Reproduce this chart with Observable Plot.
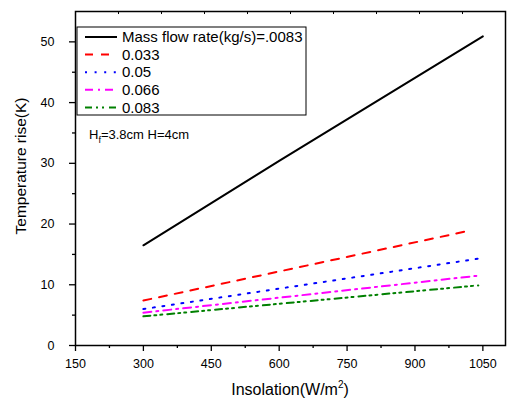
<!DOCTYPE html>
<html><head><meta charset="utf-8">
<script src="https://cdn.jsdelivr.net/npm/d3@7"></script>
<script src="https://cdn.jsdelivr.net/npm/@observablehq/plot@0.6"></script>
<style>
body{margin:0;background:#fff}
#chart{position:relative;width:507px;height:400px}
</style>
</head><body><div id="chart"></div>
<script>
// ---- data ----
const seriesNames = ["Mass flow rate(kg/s)=.0083", "0.033", "0.05", "0.066", "0.083"];
const seriesColors = ["#000000", "#ff0000", "#0000ff", "#ff00ff", "#008000"];
const seriesDash = [null, "8,8", "2,7.6", "8,5,2,5", "7,4,2,4,2,5"];
const insol0083 = [300, 600, 1050];
const rise0083 = [16.5, 30.4, 50.9];
const insol033 = [300, 1020];
const rise033 = [7.4, 18.9];
const insol05 = [300, 1040];
const rise05 = [6.0, 14.3];
const insol066 = [300, 1040];
const rise066 = [5.4, 11.5];
const insol083 = [300, 1040];
const rise083 = [4.8, 9.9];
const xTicks = [150, 300, 450, 600, 750, 900, 1050];
const xMinorTicks = [225, 375, 525, 675, 825, 975];
const yTicks = [0, 10, 20, 30, 40, 50];
const yMinorTicks = [5, 15, 25, 35, 45];
const topTicks = [245, 340, 435, 530, 625, 720, 815, 910, 1005];
const xLabelParts = ["Insolation(W/m", "2", ")"];
const yLabel = "Temperature rise(K)";

const seriesX = [insol0083, insol033, insol05, insol066, insol083];
const seriesY = [rise0083, rise033, rise05, rise066, rise083];
const rows = seriesX.map((xs, i) => xs.map((x, j) => ({x, y: seriesY[i][j], s: seriesNames[i]})));

const font = "'Liberation Sans', Arial, sans-serif";

const plot = Plot.plot({
  width: 507, height: 400,
  marginLeft: 75, marginRight: 2, marginTop: 11, marginBottom: 55,
  x: {domain: [150, 1100]},
  y: {domain: [0, 55]},
  style: {fontFamily: font, fontSize: "12px", color: "#000", background: "#fff"},
  marks: [
    Plot.axisX(xTicks, {tickSize: 6, tickPadding: 8, fontSize: 12.5, label: null, strokeWidth: 1.3, tickFormat: d => String(d)}),
    Plot.axisX(xMinorTicks, {tickSize: 3, text: null, label: null, strokeWidth: 1.3}),
    Plot.axisY(yTicks, {tickSize: 6, tickPadding: 15, fontSize: 12.5, label: null, strokeWidth: 1.3, tickFormat: d => String(d)}),
    Plot.axisY(yMinorTicks, {tickSize: 3, text: null, label: null, strokeWidth: 1.3}),
    Plot.ruleX(topTicks, {y1: 55, y2: 54.5, stroke: "#000", strokeWidth: 1}),
    ...rows.map((r, i) => Plot.line(r, {
      x: "x", y: "y", stroke: seriesColors[i], strokeWidth: 2,
      strokeDasharray: seriesDash[i] || undefined
    })),
    Plot.frame({stroke: "#000", strokeWidth: 1.5})
  ]
});

document.getElementById("chart").appendChild(plot);

const svg = d3.select(plot);
// axis titles
const xt = svg.append("text").attr("x", 290).attr("y", 395)
  .attr("text-anchor", "middle").attr("font-family", font).attr("font-size", 16)
  .attr("fill", "#000");
xt.append("tspan").text(xLabelParts[0]);
xt.append("tspan").attr("font-size", 10).attr("dy", -7).text(xLabelParts[1]);
xt.append("tspan").attr("dy", 7).text(xLabelParts[2]);
svg.append("text").attr("transform", "translate(21,166) rotate(-90)").attr("dy", "0.35em")
  .attr("text-anchor", "middle").attr("font-family", font).attr("font-size", 15.5)
  .attr("fill", "#000").text(yLabel);

// legend box drawn inside the SVG
const lg = svg.append("g").attr("font-family", font).attr("text-anchor", "start");
lg.append("rect").attr("x", 77).attr("y", 27).attr("width", 229).attr("height", 88)
  .attr("fill", "#fff").attr("stroke", "#000").attr("stroke-width", 1);
seriesNames.forEach((name, i) => {
  const yy = 37 + i * 17.6;
  lg.append("line").attr("x1", 85).attr("x2", 117).attr("y1", yy).attr("y2", yy)
    .attr("stroke", seriesColors[i]).attr("stroke-width", 2)
    .attr("stroke-dasharray", seriesDash[i]);
  lg.append("text").attr("x", 122).attr("y", yy).attr("dy", "0.35em")
    .attr("text-anchor", "start")
    .attr("font-size", 15).attr("fill", "#000").text(name);
});
const ann = lg.append("text").attr("x", 89).attr("y", 139).attr("font-size", 13)
  .attr("text-anchor", "start").attr("fill", "#000");
ann.append("tspan").text("H");
ann.append("tspan").attr("font-size", 9).attr("dy", 4).text("f");
ann.append("tspan").attr("dy", -4).text("=3.8cm H=4cm");
</script>
</body></html>
